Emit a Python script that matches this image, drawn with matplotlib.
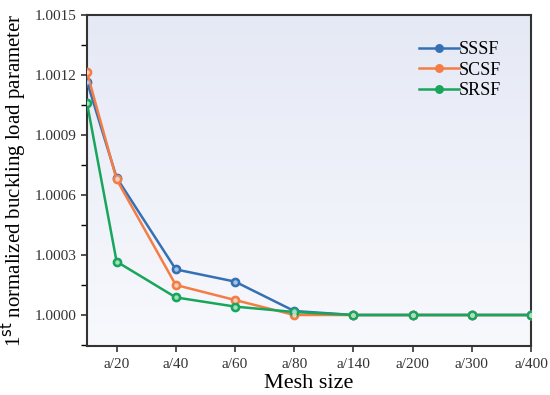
import matplotlib.pyplot as plt
import numpy as np

plt.rcParams['font.family'] = ['Liberation Serif', 'DejaVu Serif']

# data
x_pos = [0.5, 1, 2, 3, 4, 5, 6, 7, 8]
tick_pos = [1, 2, 3, 4, 5, 6, 7, 8]
tick_labels = ['a/20', 'a/40', 'a/60', 'a/80', 'a/140', 'a/200', 'a/300', 'a/400']
sssf = [1.001167, 1.000687, 1.000228, 1.000167, 1.000020, 1.0, 1.0, 1.0, 1.0]
scsf = [1.001213, 1.000678, 1.000150, 1.000075, 1.000000, 1.0, 1.0, 1.0, 1.0]
srsf = [1.001060, 1.000267, 1.000088, 1.000042, 1.000015, 1.0, 1.0, 1.0, 1.0]

series = [('SSSF', sssf, '#3570b5', '#a9c4e6'),
          ('SCSF', scsf, '#f47d45', '#fbd0b8'),
          ('SRSF', srsf, '#17a65c', '#a6e0c0')]

fig = plt.figure(figsize=(5.5, 3.95), dpi=100)
ax = fig.add_axes([87 / 550, 1 - 346 / 395, (531 - 87) / 550, (346 - 15) / 395])

ylim = (0.999845, 1.0015)

# gradient background
grad = np.linspace(0, 1, 256)
top = np.array([0.898, 0.914, 0.961])
bot = np.array([0.973, 0.976, 0.992])
img = (bot[None, :] + (top - bot)[None, :] * grad[:, None]).reshape(256, 1, 3)
ax.imshow(img, extent=[0.5, 8, ylim[0], ylim[1]],
          origin='lower', aspect='auto', zorder=0)

for name, vals, col, hl in series:
    ax.plot(x_pos, vals, color=col, lw=1.8, marker='o', ms=6, mfc=col, mec=col,
            label=name, zorder=3)
    ax.plot(x_pos, vals, ls='none', marker='o', ms=2.2, mfc=hl, mec=hl, zorder=4)

ax.set_xlim(0.5, 8)
ax.set_ylim(*ylim)

ax.set_xticks(tick_pos)
ax.set_xticklabels(tick_labels)
ax.set_yticks([1.0, 1.0003, 1.0006, 1.0009, 1.0012, 1.0015])
ax.set_yticklabels(['1.0000', '1.0003', '1.0006', '1.0009', '1.0012', '1.0015'])
ax.set_yticks([0.99985, 1.00015, 1.00045, 1.00075, 1.00105, 1.00135], minor=True)
ax.tick_params(axis='both', labelsize=11, colors='#333333', width=1.2, length=4)
ax.tick_params(axis='y', which='minor', width=1.0, length=4)
ax.tick_params(axis='x', pad=5)
for sp in ax.spines.values():
    sp.set_linewidth(1.5)
    sp.set_color('#333333')

ax.set_xlabel('Mesh size', fontsize=16, labelpad=2)
ax.set_ylabel('1$^{\\mathrm{st}}$ normalized buckling load parameter', fontsize=15,
              labelpad=4)

ax.legend(loc='upper right', frameon=False, fontsize=13, handlelength=2.2,
          handletextpad=0.0, labelspacing=0.2, bbox_to_anchor=(0.97, 0.97),
          markerscale=0.9)

fig.savefig('out.png', dpi=100)
